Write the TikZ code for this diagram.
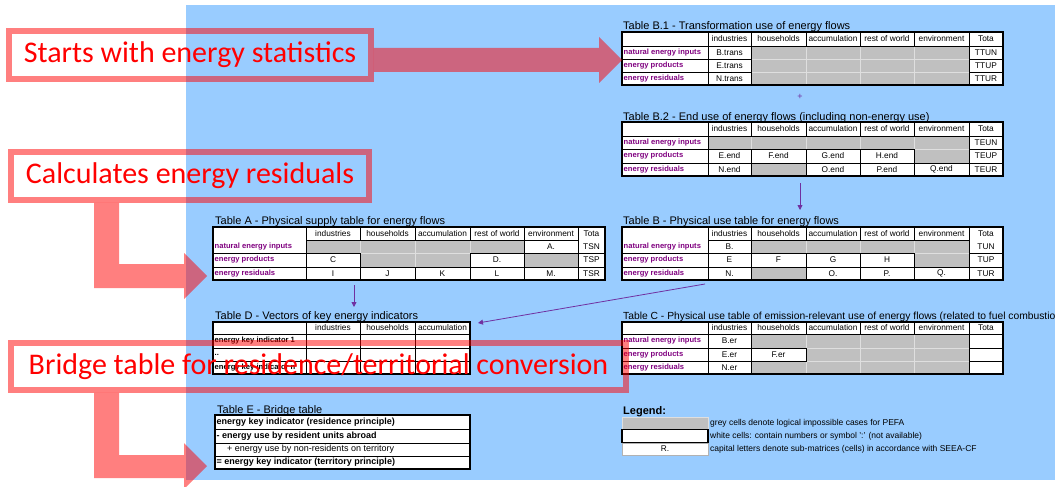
\documentclass[tikz,border=0pt]{standalone}
\usepackage{fontspec}
\setmainfont{Liberation Sans}
\newfontfamily\calib{Carlito}
\usetikzlibrary{arrows.meta}
\definecolor{bgblue}{RGB}{153,204,255}
\definecolor{cellgrey}{RGB}{192,192,192}
\definecolor{lblpurple}{RGB}{128,0,128}
\definecolor{arrpurple}{RGB}{112,48,160}
\pgfdeclarelayer{bg}\pgfdeclarelayer{greyl}\pgfdeclarelayer{pink}
\pgfsetlayers{bg,greyl,main,pink}
\newcommand\tcf{\fontsize{8.3}{9}\selectfont}
\newcommand\lbf{\fontsize{7.6}{9}\selectfont\bfseries}
\newcommand\ttf{\fontsize{11}{12}\selectfont}
\newcommand\lgf{\fontsize{8.5}{10}\selectfont}
\newcommand\etf{\fontsize{9}{10}\selectfont}
\newcommand\bigf{\calib\fontsize{30}{36}\selectfont}
\newcommand\mkCell[7]{\node[#1,minimum width={(#4-#3)*1pt},minimum height={(#6-#5)*1pt}] (#2) at ({(#3+#4)/2},{(#5+#6)/2}) {#7};}
\newcommand\mkW[6]{\mkCell{wcell}{#1}{#2}{#3}{#4}{#5}{#6}}
\newcommand\mkG[5]{\begin{pgfonlayer}{greyl}\mkCell{gcell}{#1}{#2}{#3}{#4}{#5}{}\end{pgfonlayer}}
\newcommand\mkL[6]{\mkCell{wcell}{#1}{#2}{#3}{#4}{#5}{}\node[lbl,anchor=west] (#1t) at ([xshift=1.5pt]#1.west) {#6};}
\newcommand\mkK[6]{\mkCell{wcell}{#1}{#2}{#3}{#4}{#5}{}\node[lblk,anchor=west] (#1t) at ([xshift=1.5pt]#1.west) {#6};}
\newcommand\mkE[6]{\mkCell{wcell}{#1}{#2}{#3}{#4}{#5}{}\node[etxt,anchor=west] (#1t) at ([xshift=1.5pt]#1.west) {#6};}
\newcommand\hdrB[3]{%
 \mkW{#1h0}{622}{708}{#2}{#3}{}
 \mkW{#1h1}{708}{751}{#2}{#3}{industries}
 \mkW{#1h2}{751}{806}{#2}{#3}{households}
 \mkW{#1h3}{806}{860}{#2}{#3}{accumulation}
 \mkW{#1h4}{860}{914}{#2}{#3}{rest of world}
 \mkW{#1h5}{914}{969}{#2}{#3}{environment}
 \mkW{#1h6}{969}{1003}{#2}{#3}{Tota}}
\newcommand\greyB[3]{%
 \mkG{#1a}{751}{806}{#2}{#3}\mkG{#1b}{806}{860}{#2}{#3}\mkG{#1c}{860}{914}{#2}{#3}\mkG{#1d}{914}{969}{#2}{#3}}
\begin{document}
\begin{tikzpicture}[x=1pt,y=-1pt,
  wcell/.style={draw=black,fill=white,line width=0.8pt,inner sep=0pt,outer sep=0pt,font=\tcf},
  gcell/.style={draw=gray!25,fill=cellgrey,line width=0.6pt,inner sep=0pt,outer sep=0pt},
  lbl/.style={inner sep=0pt,font=\lbf,text=lblpurple},
  lblk/.style={inner sep=0pt,font=\lbf,text=black},
  etxt/.style={inner sep=0pt,font=\etf\bfseries,text=black},
  plain/.style={inner sep=0pt,font=\tcf},
  ttl/.style={inner sep=0pt,anchor=base west,font=\ttf},
  frame/.style={draw=black,line width=1.6pt},
  bigbox/.style={draw=red,draw opacity=0.5,line width=5.5pt,inner sep=0pt,outer sep=0pt,text=red,font=\bigf},
  pinkshape/.style={fill=red,fill opacity=0.5},
  parr/.style={draw=arrpurple,line width=0.8pt,-{Triangle[length=5pt,width=5pt]}},
]
\useasboundingbox (0,0) rectangle (1055,487);
\begin{pgfonlayer}{bg}
\fill[white] (0,0) rectangle (1055,487);
\fill[bgblue] (186,5) rectangle (1055,480);
\end{pgfonlayer}

% ---------- Table B.1
\node[ttl] (tB1) at (623,30) {Table B.1 - Transformation use of energy flows};
\hdrB{P}{32}{46}
\mkL{Pl1}{622}{708}{46}{59}{natural energy inputs}
\mkW{Pc1}{708}{751}{46}{59}{B.trans}
\greyB{Pg1}{46}{59}
\mkW{Pt1}{969}{1003}{46}{59}{TTUN}
\mkL{Pl2}{622}{708}{59}{72}{energy products}
\mkW{Pc2}{708}{751}{59}{72}{E.trans}
\greyB{Pg2}{59}{72}
\mkW{Pt2}{969}{1003}{59}{72}{TTUP}
\mkL{Pl3}{622}{708}{72}{85}{energy residuals}
\mkW{Pc3}{708}{751}{72}{85}{N.trans}
\greyB{Pg3}{72}{85}
\mkW{Pt3}{969}{1003}{72}{85}{TTUR}
\draw[frame] (622,32) rectangle (1003,85);

\node[text=arrpurple,inner sep=0pt,font=\fontsize{9}{10}\selectfont] (plus) at (800,97) {+};

% ---------- Table B.2
\node[ttl] (tB2) at (623,120) {Table B.2 - End use of energy flows (including non-energy use)};
\hdrB{Q}{122}{136}
\mkL{Ql1}{622}{708}{136}{149}{natural energy inputs}
\mkG{Qg1e}{708}{751}{136}{149}
\greyB{Qg1}{136}{149}
\mkW{Qt1}{969}{1003}{136}{149}{TEUN}
\mkL{Ql2}{622}{708}{149}{163}{energy products}
\mkW{Qc2a}{708}{751}{149}{163}{E.end}
\mkW{Qc2b}{751}{806}{149}{163}{F.end}
\mkW{Qc2c}{806}{860}{149}{163}{G.end}
\mkW{Qc2d}{860}{914}{149}{163}{H.end}
\mkG{Qg2}{914}{969}{149}{163}
\mkW{Qt2}{969}{1003}{149}{163}{TEUP}
\mkL{Ql3}{622}{708}{163}{176}{energy residuals}
\mkW{Qc3a}{708}{751}{163}{176}{N.end}
\mkG{Qg3}{751}{806}{163}{176}
\mkW{Qc3c}{806}{860}{163}{176}{O.end}
\mkW{Qc3d}{860}{914}{163}{176}{P.end}
\mkW{Qc3e}{914}{969}{163}{176}{Q.end}
\mkW{Qt3}{969}{1003}{163}{176}{TEUR}
\draw[frame] (622,122) rectangle (1003,176);

% ---------- Table A
\node[ttl] (tA) at (215,224) {Table A - Physical supply table for energy flows};
\mkCell{wcell}{Al}{213}{306}{227}{253}{}
\node[lbl,anchor=west] (Alt) at (214.5,246.5) {natural energy inputs};
\mkW{Ah1}{306}{360}{227}{240}{industries}
\mkW{Ah2}{360}{415}{227}{240}{households}
\mkW{Ah3}{415}{470}{227}{240}{accumulation}
\mkW{Ah4}{470}{524}{227}{240}{rest of world}
\mkW{Ah5}{524}{578}{227}{240}{environment}
\mkCell{wcell}{At}{578}{605}{227}{253}{}
\node[plain] (Att) at (591.5,233.5) {Tota};
\node[plain] (Atn) at (591.5,246.5) {TSN};
\mkG{Ag1a}{306}{360}{240}{253}\mkG{Ag1b}{360}{415}{240}{253}\mkG{Ag1c}{415}{470}{240}{253}\mkG{Ag1d}{470}{524}{240}{253}
\mkW{Ac1}{524}{578}{240}{253}{A.}
\mkL{Al2}{213}{306}{253}{267}{energy products}
\mkW{Ac2a}{306}{360}{253}{267}{C}
\mkG{Ag2b}{360}{415}{253}{267}\mkG{Ag2c}{415}{470}{253}{267}
\mkW{Ac2d}{470}{524}{253}{267}{D.}
\mkG{Ag2e}{524}{578}{253}{267}
\mkW{At2}{578}{605}{253}{267}{TSP}
\mkL{Al3}{213}{306}{267}{280}{energy residuals}
\mkW{Ac3a}{306}{360}{267}{280}{I}
\mkW{Ac3b}{360}{415}{267}{280}{J}
\mkW{Ac3c}{415}{470}{267}{280}{K}
\mkW{Ac3d}{470}{524}{267}{280}{L}
\mkW{Ac3e}{524}{578}{267}{280}{M.}
\mkW{At3}{578}{605}{267}{280}{TSR}
\draw[frame] (213,227) rectangle (605,280);

% ---------- Table B
\node[ttl] (tB) at (623,224) {Table B - Physical use table for energy flows};
\mkCell{wcell}{Bl}{622}{708}{227}{253}{}
\node[lbl,anchor=west] (Blt) at (623.5,246.5) {natural energy inputs};
\mkW{Bh1}{708}{751}{227}{240}{industries}
\mkW{Bh2}{751}{806}{227}{240}{households}
\mkW{Bh3}{806}{860}{227}{240}{accumulation}
\mkW{Bh4}{860}{914}{227}{240}{rest of world}
\mkW{Bh5}{914}{969}{227}{240}{environment}
\mkCell{wcell}{Bt}{969}{1003}{227}{253}{}
\node[plain] (Btt) at (986,233.5) {Tota};
\node[plain] (Btn) at (986,246.5) {TUN};
\mkW{Bc1}{708}{751}{240}{253}{B.}
\greyB{Bg1}{240}{253}
\mkL{Bl2}{622}{708}{253}{267}{energy products}
\mkW{Bc2a}{708}{751}{253}{267}{E}
\mkW{Bc2b}{751}{806}{253}{267}{F}
\mkW{Bc2c}{806}{860}{253}{267}{G}
\mkW{Bc2d}{860}{914}{253}{267}{H}
\mkG{Bg2}{914}{969}{253}{267}
\mkW{Bt2}{969}{1003}{253}{267}{TUP}
\mkL{Bl3}{622}{708}{267}{280}{energy residuals}
\mkW{Bc3a}{708}{751}{267}{280}{N.}
\mkG{Bg3}{751}{806}{267}{280}
\mkW{Bc3c}{806}{860}{267}{280}{O.}
\mkW{Bc3d}{860}{914}{267}{280}{P.}
\mkW{Bc3e}{914}{969}{267}{280}{Q.}
\mkW{Bt3}{969}{1003}{267}{280}{TUR}
\draw[frame] (622,227) rectangle (1003,280);

% ---------- Table C
\node[ttl,font=\fontsize{10.3}{12}\selectfont] (tC) at (623,319) {Table C - Physical use table of emission-relevant use of energy flows (related to fuel combustion)};
\hdrB{C}{322}{334}
\mkL{Cl1}{622}{708}{334}{348}{natural energy inputs}
\mkW{Cc1}{708}{751}{334}{348}{B.er}
\greyB{Cg1}{334}{348}
\mkW{Ct1}{969}{1003}{334}{348}{}
\mkL{Cl2}{622}{708}{348}{361}{energy products}
\mkW{Cc2a}{708}{751}{348}{361}{E.er}
\mkW{Cc2b}{751}{806}{348}{361}{F.er}
\mkG{Cg2c}{806}{860}{348}{361}\mkG{Cg2d}{860}{914}{348}{361}\mkG{Cg2e}{914}{969}{348}{361}
\mkW{Ct2}{969}{1003}{348}{361}{}
\mkL{Cl3}{622}{708}{361}{374}{energy residuals}
\mkW{Cc3}{708}{751}{361}{374}{N.er}
\greyB{Cg3}{361}{374}
\mkW{Ct3}{969}{1003}{361}{374}{}
\draw[frame] (622,322) rectangle (1003,374);

% ---------- Table D
\node[ttl] (tD) at (215,319) {Table D - Vectors of key energy indicators};
\mkW{Dh0}{213}{306}{322}{334}{}
\mkW{Dh1}{306}{360}{322}{334}{industries}
\mkW{Dh2}{360}{415}{322}{334}{households}
\mkW{Dh3}{415}{470}{322}{334}{accumulation}
\mkK{Dl1}{213}{306}{334}{348}{energy key indicator 1}
\mkW{Dc1a}{306}{360}{334}{348}{}\mkW{Dc1b}{360}{415}{334}{348}{}\mkW{Dc1c}{415}{470}{334}{348}{}
\mkK{Dl2}{213}{306}{348}{361}{..}
\mkW{Dc2a}{306}{360}{348}{361}{}\mkW{Dc2b}{360}{415}{348}{361}{}\mkW{Dc2c}{415}{470}{348}{361}{}
\mkK{Dl3}{213}{306}{361}{374}{energy key indicator n}
\mkW{Dc3a}{306}{360}{361}{374}{}\mkW{Dc3b}{360}{415}{361}{374}{}\mkW{Dc3c}{415}{470}{361}{374}{}
\draw[frame] (213,322) rectangle (470,374);

% ---------- Table E
\node[ttl] (tE) at (217,413) {Table E - Bridge table};
\mkE{Er1}{215}{470}{415}{429}{energy key indicator (residence principle)}
\mkE{Er2}{215}{470}{429}{443}{- energy use by resident units abroad}
\mkCell{wcell}{Er3}{215}{470}{443}{456}{}
\node[inner sep=0pt,font=\etf,anchor=west] (Er3t) at (227,449.5) {+ energy use by non-residents on territory};
\mkE{Er4}{215}{470}{456}{469}{= energy key indicator (territory principle)}
\draw[frame] (215,415) rectangle (470,469);

% ---------- Legend
\node[ttl,font=\ttf\bfseries] (tL) at (623,414) {Legend:};
\mkG{Lg}{622}{708}{417}{429}
\node[draw=black,fill=white,line width=1.6pt,minimum width=86pt,minimum height=13pt,inner sep=0pt] (Lw) at (665,436) {};
\node[draw=gray!60,fill=white,line width=0.6pt,minimum width=86pt,minimum height=12pt,inner sep=0pt,font=\tcf] (Lr) at (665,449) {R.};
\node[inner sep=0pt,anchor=west,font=\lgf] (Lgt) at (710,423) {grey cells denote logical impossible cases for PEFA};
\node[inner sep=0pt,anchor=west,font=\lgf] (Lwt) at (710,436) {white cells: contain numbers or symbol ':' (not available)};
\node[inner sep=0pt,anchor=west,font=\lgf] (Lrt) at (710,449) {capital letters denote sub-matrices (cells) in accordance with SEEA-CF};

% ---------- purple connectors
\coordinate (pq1) at (800,183);
\coordinate (pq2) at (800,210);
\draw[parr] (pq1) -- (pq2);
\coordinate (pa1) at (354,285);
\coordinate (pa2) at (354,307);
\draw[parr] (pa1) -- (pa2);
\coordinate (pb1) at (705,284);
\coordinate (pb2) at (478,323);
\draw[parr] (pb1) -- (pb2);

% ---------- red overlay boxes and arrows
\begin{pgfonlayer}{pink}
\node[bigbox,minimum width=362pt,minimum height=48pt] (box1) at (190,55) {Starts with energy statistics};
\node[bigbox,minimum width=358pt,minimum height=48pt] (box2) at (190,176) {Calculates energy residuals};
\node[bigbox,minimum width=615pt,minimum height=47pt] (box3) at (318.5,366.5) {Bridge table for residence/territorial conversion};
\fill[pinkshape] (373.8,48) -- (599,48) -- (599,37) -- (622,60) -- (599,83) -- (599,72) -- (373.8,72) -- cycle;
\fill[pinkshape] (94,202.8) -- (119,202.8) -- (119,264) -- (184,264) -- (184,253) -- (207,276) -- (184,299) -- (184,288) -- (94,288) -- cycle;
\fill[pinkshape] (94,392.8) -- (119,392.8) -- (119,455) -- (184,455) -- (184,443) -- (207,466) -- (184,489) -- (184,478) -- (94,478) -- cycle;
\end{pgfonlayer}
\end{tikzpicture}
\end{document}
